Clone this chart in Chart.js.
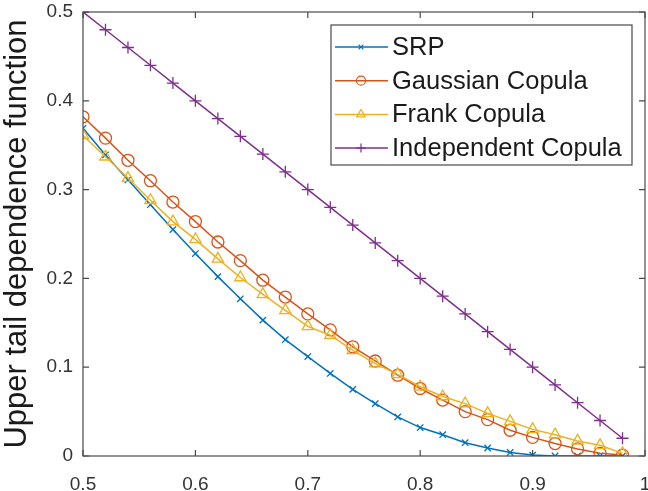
<!DOCTYPE html>
<html>
<head>
<meta charset="utf-8">
<script src="https://cdn.jsdelivr.net/npm/chart.js@4.4.1/dist/chart.umd.min.js"></script>
<style>
  html, body { margin: 0; padding: 0; background: #fff; }
  #wrap { width: 648px; height: 491px; }
</style>
</head>
<body>
<div id="wrap"><canvas id="tailChart" width="648" height="491"></canvas></div>
<script>
// values
const xValues = [0.50, 0.52, 0.54, 0.56, 0.58, 0.60, 0.62, 0.64, 0.66, 0.68, 0.70, 0.72,
                 0.74, 0.76, 0.78, 0.80, 0.82, 0.84, 0.86, 0.88, 0.90, 0.92, 0.94, 0.96, 0.98];
const srp = [0.369, 0.339, 0.311, 0.283, 0.255, 0.228, 0.202, 0.177, 0.153, 0.131, 0.112, 0.093,
             0.075, 0.059, 0.044, 0.032, 0.024, 0.015, 0.009, 0.004, 0.001, 0.000, 0.000, 0.000, 0.000];
const gaussian = [0.382, 0.358, 0.333, 0.310, 0.286, 0.264, 0.241, 0.220, 0.198, 0.179, 0.160, 0.142,
                  0.123, 0.107, 0.091, 0.076, 0.063, 0.050, 0.041, 0.029, 0.021, 0.014, 0.008, 0.003, 0.001];
const frank = [0.361, 0.337, 0.313, 0.288, 0.264, 0.244, 0.222, 0.201, 0.182, 0.164, 0.146, 0.136,
               0.119, 0.104, 0.092, 0.078, 0.067, 0.059, 0.048, 0.039, 0.030, 0.024, 0.017, 0.012, 0.003];
const independent = [0.50, 0.48, 0.46, 0.44, 0.42, 0.40, 0.38, 0.36, 0.34, 0.32, 0.30, 0.28,
                     0.26, 0.24, 0.22, 0.20, 0.18, 0.16, 0.14, 0.12, 0.10, 0.08, 0.06, 0.04, 0.02];
const seriesNames = ['SRP', 'Gaussian Copula', 'Frank Copula', 'Independent Copula'];
const xTickLabels = ['0.5', '0.6', '0.7', '0.8', '0.9', '1'];
const yTickLabels = ['0', '0.1', '0.2', '0.3', '0.4', '0.5'];

const axisColor = '#4a4a4a';
const font = "'Liberation Sans', Arial, sans-serif";

function toPoints(ys) {
    return xValues.map((x, i) => ({x: x, y: ys[i]}));
}

const styles = [
    {color: '#0072BD', pointStyle: 'crossRot', radius: 4.5},
    {color: '#D95319', pointStyle: 'circle', radius: 6},
    {color: '#EDB120', pointStyle: 'triangle', radius: 6.5},
    {color: '#7E2F8E', pointStyle: 'cross', radius: 6}
];
const allSeries = [srp, gaussian, frank, independent];

const datasets = allSeries.map((ys, i) => ({
    label: seriesNames[i],
    data: toPoints(ys),
    borderColor: styles[i].color,
    backgroundColor: 'rgba(0,0,0,0)',
    pointBorderColor: styles[i].color,
    pointBackgroundColor: 'rgba(0,0,0,0)',
    pointStyle: styles[i].pointStyle,
    pointRadius: styles[i].radius,
    pointBorderWidth: 1.3,
    borderWidth: 1.5,
    tension: 0,
    order: 4 - i
}));

// MATLAB-like box with inward ticks
const boxPlugin = {
    id: 'box',
    afterDatasetsDraw(chart) {
        const {ctx, chartArea: a, scales} = chart;
        ctx.save();
        ctx.strokeStyle = axisColor;
        ctx.lineWidth = 1.2;
        ctx.strokeRect(a.left, a.top, a.right - a.left, a.bottom - a.top);
        const tl = 6;
        ctx.beginPath();
        scales.x.ticks.forEach(t => {
            const px = scales.x.getPixelForValue(t.value);
            ctx.moveTo(px, a.bottom); ctx.lineTo(px, a.bottom - tl);
            ctx.moveTo(px, a.top); ctx.lineTo(px, a.top + tl);
        });
        scales.y.ticks.forEach(t => {
            const py = scales.y.getPixelForValue(t.value);
            ctx.moveTo(a.left, py); ctx.lineTo(a.left + tl, py);
            ctx.moveTo(a.right, py); ctx.lineTo(a.right - tl, py);
        });
        ctx.stroke();
        ctx.restore();
    }
};

// legend drawn inside the axes, line + marker like MATLAB
const legendPlugin = {
    id: 'innerLegend',
    afterDraw(chart) {
        const {ctx, chartArea: a} = chart;
        const right = a.right - 13, top = a.top + 13;
        const w = 301, h = 140;
        const left = right - w;
        ctx.save();
        ctx.fillStyle = '#fff';
        ctx.fillRect(left, top, w, h);
        ctx.strokeStyle = axisColor;
        ctx.lineWidth = 1.2;
        ctx.strokeRect(left, top, w, h);
        ctx.font = '25.5px ' + font;
        ctx.textBaseline = 'middle';
        chart.data.datasets.forEach((ds, i) => {
            const y = top + 22 + i * 33.7;
            ctx.strokeStyle = ds.borderColor;
            ctx.lineWidth = 1.5;
            ctx.beginPath();
            ctx.moveTo(left + 4, y);
            ctx.lineTo(left + 57, y);
            ctx.stroke();
            ctx.fillStyle = 'rgba(0,0,0,0)';
            ctx.lineWidth = 1.2;
            Chart.helpers.drawPoint(ctx, {
                pointStyle: ds.pointStyle,
                radius: ds.pointRadius * 0.75,
                borderWidth: 1.2,
                rotation: 0
            }, left + 30, y);
            ctx.fillStyle = '#1a1a1a';
            ctx.fillText(ds.label, left + 61, y + 1);
        });
        ctx.restore();
    }
};

const ctx = document.getElementById('tailChart').getContext('2d');
const tailChart = new Chart(ctx, {
    type: 'line',
    data: {datasets: datasets},
    options: {
        responsive: false,
        animation: false,
        layout: {autoPadding: false, padding: {top: 12, right: 3, left: 0, bottom: 0}},
        plugins: {
            legend: {display: false},
            tooltip: {enabled: false}
        },
        scales: {
            x: {
                type: 'linear',
                min: 0.5,
                max: 1,
                grid: {display: false, drawTicks: false},
                border: {display: false},
                ticks: {
                    stepSize: 0.1,
                    padding: 17,
                    color: '#333',
                    font: {family: font, size: 19},
                    callback: (v, i) => xTickLabels[i]
                },
                afterFit(scale) {
                    scale.height = 35;
                    scale.paddingLeft = 0;
                    scale.paddingRight = 0;
                }
            },
            y: {
                min: 0,
                max: 0.5,
                grid: {display: false, drawTicks: false},
                border: {display: false},
                ticks: {
                    stepSize: 0.1,
                    padding: 10,
                    color: '#333',
                    font: {family: font, size: 19},
                    callback: (v, i) => yTickLabels[i]
                },
                title: {
                    display: true,
                    text: 'Upper tail dependence function',
                    color: '#1a1a1a',
                    font: {family: font, size: 31, lineHeight: 1.15},
                    padding: {top: 0, bottom: 0}
                },
                afterFit(scale) {
                    scale.width = 83;
                    scale.paddingTop = 0;
                    scale.paddingBottom = 0;
                }
            }
        }
    },
    plugins: [boxPlugin, legendPlugin]
});
</script>
</body>
</html>
